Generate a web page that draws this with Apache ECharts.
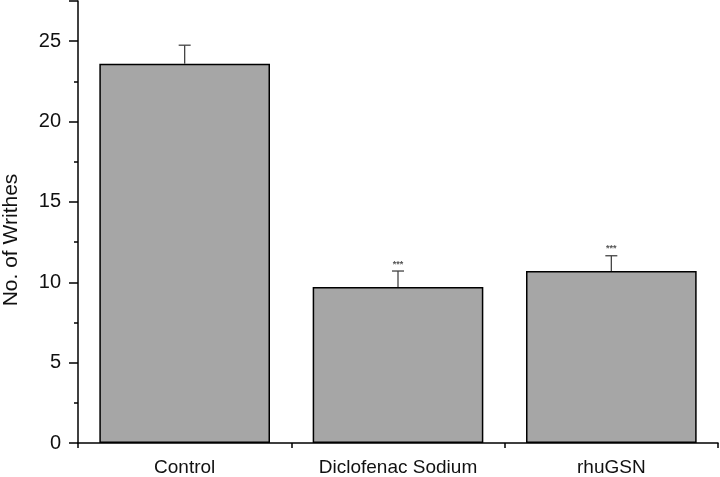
<!DOCTYPE html>
<html>
<head>
<meta charset="utf-8">
<script src="https://cdn.jsdelivr.net/npm/echarts@6/dist/echarts.min.js"></script>
<style>
  html, body { margin: 0; padding: 0; background: #fff; }
  #chart { width: 720px; height: 477px; }
</style>
</head>
<body>
<div id="chart"></div>
<script>
const groups = ["Control", "Diclofenac Sodium", "rhuGSN"];
const meanWrithes = [23.6, 9.7, 10.7];
const errWrithes = [1.15, 1.0, 0.95];
const signif = ["", "***", "***"];

const chart = echarts.init(document.getElementById("chart"));
const font = "Arial, 'Liberation Sans', sans-serif";

const option = {
  animation: false,
  grid: { left: 78, right: 2, top: 1, bottom: 30 },
  xAxis: [
    {
      type: "category",
      data: groups,
      axisLine: { lineStyle: { color: "#000", width: 1.5 } },
      axisTick: { alignWithLabel: true, length: 9, lineStyle: { color: "#000", width: 1.5 } },
      axisLabel: { color: "#111", fontSize: 19, fontFamily: font, margin: 15 },
    },
    {
      // boundary ticks between groups
      type: "value",
      position: "bottom",
      min: 0,
      max: 3,
      interval: 1,
      axisLine: { show: false },
      axisTick: { show: true, length: 5, lineStyle: { color: "#000", width: 1.5 } },
      axisLabel: { show: false },
      splitLine: { show: false },
    },
  ],
  yAxis: {
    type: "value",
    min: 0,
    max: 27.5,
    interval: 5,
    axisLine: { show: true, lineStyle: { color: "#000", width: 1.5 } },
    axisTick: { show: true, length: 9, lineStyle: { color: "#000", width: 1.5 } },
    minorTick: { show: true, splitNumber: 2, length: 4, lineStyle: { color: "#000", width: 1.5 } },
    splitLine: { show: false },
    axisLabel: {
      color: "#111", fontSize: 20, fontFamily: font, margin: 17,
      showMaxLabel: false,
    },
  },
  graphic: [
    {
      type: "text",
      x: 11,
      y: 240,
      rotation: Math.PI / 2,
      style: {
        text: "No. of Writhes",
        fill: "#111",
        font: "21px " + font,
        align: "center",
        verticalAlign: "middle",
      },
    },
  ],
  series: [
    {
      type: "bar",
      data: meanWrithes,
      barWidth: "80%",
      itemStyle: { color: "#a6a6a6", borderColor: "#000", borderWidth: 1.5 },
    },
    {
      type: "custom",
      data: meanWrithes.map((v, i) => [i, v, errWrithes[i]]),
      z: 5,
      renderItem: function (params, api) {
        const i = api.value(0);
        const base = api.coord([i, api.value(1)]);
        const top = api.coord([i, api.value(1) + api.value(2)]);
        const children = [
          { type: "line", shape: { x1: base[0], y1: base[1], x2: top[0], y2: top[1] }, style: { stroke: "#444", lineWidth: 1.3 } },
          { type: "line", shape: { x1: top[0] - 6, y1: top[1], x2: top[0] + 6, y2: top[1] }, style: { stroke: "#444", lineWidth: 1.3 } },
        ];
        if (signif[i]) {
          children.push({
            type: "text",
            x: top[0],
            y: top[1] - 7,
            style: { text: signif[i], fill: "#555", font: "bold 9px " + font, align: "center", verticalAlign: "middle" },
          });
        }
        return { type: "group", children: children };
      },
    },
  ],
};

chart.setOption(option);
window.addEventListener("resize", () => chart.resize());
</script>
</body>
</html>
